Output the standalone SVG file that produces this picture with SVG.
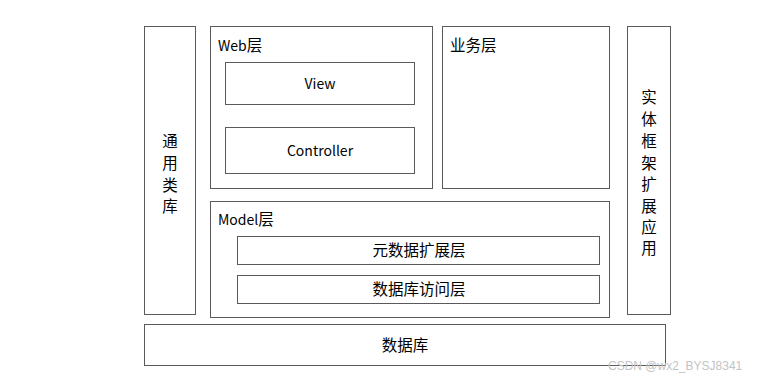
<svg xmlns="http://www.w3.org/2000/svg" width="766" height="379" viewBox="0 0 766 379">
<style>
.b{fill:#fff;stroke:#5a5a5a;stroke-width:1}
.t{font-family:"Microsoft YaHei","Noto Sans CJK SC","Liberation Sans",sans-serif;font-size:14px;fill:#000}
.z{font-size:15.5px}
.c{text-anchor:middle}
.w{font-family:"Liberation Sans","Noto Sans CJK SC",sans-serif;font-size:12px;fill:#c4c4c4}
</style>
<rect width="766" height="379" fill="#fff"/>
<g id="common">
<rect class="b" x="144.5" y="26.5" width="51" height="288"/>
<text class="t z c" x="170" y="147">通</text>
<text class="t z c" x="170" y="169">用</text>
<text class="t z c" x="170" y="191">类</text>
<text class="t z c" x="170" y="212">库</text>
</g>
<g id="web">
<rect class="b" x="210.5" y="26.5" width="222" height="162"/>
<text class="t" x="218" y="51">Web<tspan class="z">层</tspan></text>
</g>
<g id="view">
<rect class="b" x="225.5" y="62.5" width="189" height="42"/>
<text class="t c" x="320" y="89">View</text>
</g>
<g id="controller">
<rect class="b" x="225.5" y="127.5" width="189" height="46"/>
<text class="t c" x="320" y="156">Controller</text>
</g>
<g id="business">
<rect class="b" x="442.5" y="26.5" width="167" height="162"/>
<text class="t z" x="450" y="51">业务层</text>
</g>
<g id="entity">
<rect class="b" x="627.5" y="26.5" width="43" height="288"/>
<text class="t z c" x="649" y="103">实</text>
<text class="t z c" x="649" y="125">体</text>
<text class="t z c" x="649" y="147">框</text>
<text class="t z c" x="649" y="169">架</text>
<text class="t z c" x="649" y="190">扩</text>
<text class="t z c" x="649" y="212">展</text>
<text class="t z c" x="649" y="233">应</text>
<text class="t z c" x="649" y="254">用</text>
</g>
<g id="model">
<rect class="b" x="210.5" y="201.5" width="399" height="116"/>
<text class="t" x="218" y="225">Model<tspan class="z">层</tspan></text>
</g>
<g id="meta">
<rect class="b" x="237.5" y="236.5" width="362" height="28"/>
<text class="t z c" x="419" y="256">元数据扩展层</text>
</g>
<g id="dal">
<rect class="b" x="237.5" y="275.5" width="362" height="28"/>
<text class="t z c" x="419" y="295">数据库访问层</text>
</g>
<g id="db">
<rect class="b" x="144.5" y="324.5" width="521" height="41"/>
<text class="t z c" x="405" y="351">数据库</text>
</g>
<g id="connectors"></g>
<text class="w" x="608" y="370">CSDN @wx2_BYSJ8341</text>
</svg>
